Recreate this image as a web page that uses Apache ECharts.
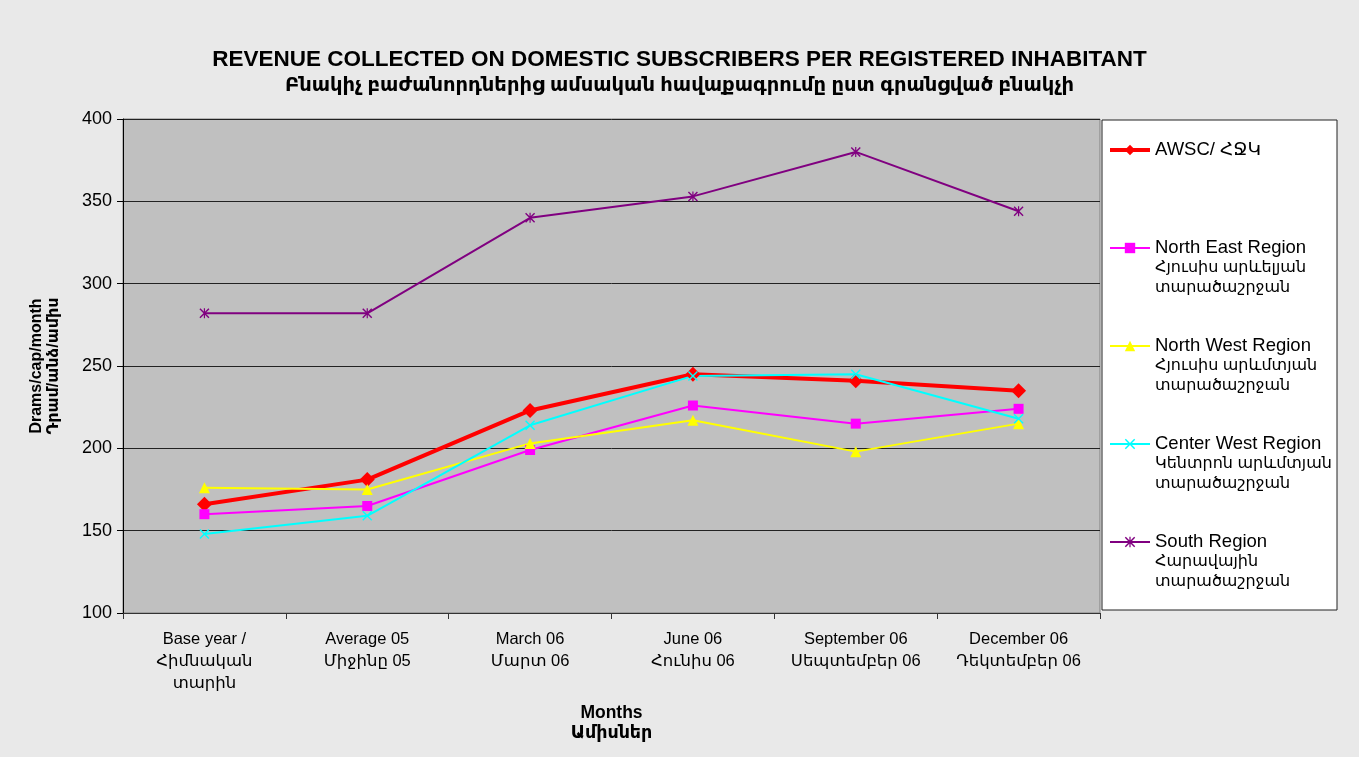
<!DOCTYPE html>
<html>
<head>
<meta charset="utf-8">
<script src="https://cdn.jsdelivr.net/npm/echarts@6/dist/echarts.min.js"></script>
<style>
html, body { margin: 0; padding: 0; background: #e9e9e9; }
#chart { width: 1359px; height: 757px; }
</style>
</head>
<body>
<div id="chart"></div>
<script>
// categories (English / Armenian)
var months = [
    'Base year /\nՀիմնական\nտարին',
    'Average 05\nՄիջինը 05',
    'March 06\nՄարտ 06',
    'June 06\nՀունիս 06',
    'September 06\nՍեպտեմբեր 06',
    'December 06\nԴեկտեմբեր 06'
];

// Drams per capita per month
var awsc = [166, 181, 223, 245, 241, 235];
var northEast = [160, 165, 199, 226, 215, 224];
var northWest = [176, 175, 203, 217, 198, 215];
var centerWest = [148, 159, 214, 244, 245, 218];
var south = [282, 282, 340, 353, 380, 344];

var yTicks = [100, 150, 200, 250, 300, 350, 400];

var seriesNames = [
    'AWSC/ ՀՋԿ',
    'North East Region\nՀյուսիս արևելյան\nտարածաշրջան',
    'North West Region\nՀյուսիս արևմտյան\nտարածաշրջան',
    'Center West Region\nԿենտրոն արևմտյան\nտարածաշրջան',
    'South Region\nՀարավային\nտարածաշրջան'
];

var font = "'Liberation Sans', 'DejaVu Sans', Arial, sans-serif";

// x and asterisk markers, excel style
var xMark = 'path://M0,1 L1,0 L5,4 L9,0 L10,1 L6,5 L10,9 L9,10 L5,6 L1,10 L0,9 L4,5 Z';
var starMark = 'path://M0,1 L1,0 L5,4 L9,0 L10,1 L6,5 L10,9 L9,10 L5,6 L1,10 L0,9 L4,5 Z M4.4,0 L5.6,0 L5.6,10 L4.4,10 Z';

var chartDom = document.getElementById('chart');
var myChart = echarts.init(chartDom);

var option = {
    backgroundColor: '#e9e9e9',
    animation: false,
    title: {
        text: 'REVENUE COLLECTED ON DOMESTIC SUBSCRIBERS PER REGISTERED INHABITANT',
        subtext: 'Բնակիչ բաժանորդներից ամսական հավաքագրումը ըստ գրանցված բնակչի',
        left: 'center',
        top: 43,
        itemGap: 5,
        textStyle: {
            fontFamily: font,
            fontSize: 22.5,
            fontWeight: 'bold',
            color: '#000'
        },
        subtextStyle: {
            fontFamily: font,
            fontSize: 19.5,
            fontWeight: 'bold',
            color: '#000'
        }
    },
    graphic: [
        {
            type: 'rect',
            z: 0,
            shape: { x: 1102, y: 120, width: 235, height: 490 },
            style: { fill: '#fff', stroke: '#222', lineWidth: 1 }
        }
    ],
    legend: {
        orient: 'vertical',
        left: 1108,
        top: 100,
        padding: 0,
        itemGap: -2,
        itemWidth: 40,
        itemHeight: 13,
        z: 5,
        formatter: function (name) {
            return name.split('\n').map(function (part, i) {
                return i === 0 ? '{en|' + part + '}' : '{hy|' + part + '}';
            }).join('\n');
        },
        textStyle: {
            fontFamily: font,
            color: '#000',
            lineHeight: 20,
            rich: {
                en: { fontFamily: font, fontSize: 18.5, lineHeight: 20, color: '#000' },
                hy: { fontFamily: font, fontSize: 16, lineHeight: 20, color: '#000' }
            }
        },
        data: [
            { name: seriesNames[0], textStyle: { padding: [40, 0, 40, 0] }, lineStyle: { width: 4 } },
            { name: seriesNames[1], textStyle: { padding: [40, 0, 0, 0] } },
            { name: seriesNames[2], textStyle: { padding: [40, 0, 0, 0] } },
            { name: seriesNames[3], textStyle: { padding: [40, 0, 0, 0] } },
            { name: seriesNames[4], textStyle: { padding: [40, 0, 0, 0] } }
        ]
    },
    grid: {
        left: 123,
        right: 259,
        top: 119,
        bottom: 144,
        show: true,
        backgroundColor: '#c0c0c0',
        borderColor: '#808080',
        borderWidth: 1
    },
    xAxis: {
        type: 'category',
        data: months,
        boundaryGap: true,
        name: 'Months\nԱմիսներ',
        nameLocation: 'middle',
        nameGap: 90,
        nameTextStyle: {
            fontFamily: font,
            fontSize: 17.5,
            fontWeight: 'bold',
            color: '#000',
            lineHeight: 20
        },
        axisLine: { lineStyle: { color: '#333', width: 1 } },
        axisTick: { show: true, length: 6, lineStyle: { color: '#333' } },
        axisLabel: {
            fontFamily: font,
            fontSize: 16.5,
            color: '#000',
            lineHeight: 22,
            margin: 15,
            interval: 0
        },
        splitLine: { show: false }
    },
    yAxis: {
        type: 'value',
        min: yTicks[0],
        max: yTicks[yTicks.length - 1],
        interval: 50,
        name: 'Drams/cap/month\nԴրամ/անձ/ամիս',
        nameLocation: 'middle',
        nameGap: 61,
        nameTextStyle: {
            fontFamily: font,
            fontSize: 16,
            fontWeight: 'bold',
            color: '#000',
            lineHeight: 17
        },
        axisLine: { show: true, lineStyle: { color: '#000', width: 1 } },
        axisTick: { show: true, length: 6, lineStyle: { color: '#000' } },
        axisLabel: {
            fontFamily: font,
            fontSize: 18,
            color: '#000',
            margin: 11
        },
        splitLine: { show: true, lineStyle: { color: '#222', width: 1 } }
    },
    series: [
        {
            name: seriesNames[0],
            type: 'line',
            data: awsc,
            symbol: 'diamond',
            symbolSize: 15,
            lineStyle: { color: '#ff0000', width: 4 },
            itemStyle: { color: '#ff0000' }
        },
        {
            name: seriesNames[1],
            type: 'line',
            data: northEast,
            symbol: 'rect',
            symbolSize: 10,
            lineStyle: { color: '#ff00ff', width: 2 },
            itemStyle: { color: '#ff00ff' }
        },
        {
            name: seriesNames[2],
            type: 'line',
            data: northWest,
            symbol: 'triangle',
            symbolSize: 11,
            lineStyle: { color: '#ffff00', width: 2 },
            itemStyle: { color: '#ffff00' }
        },
        {
            name: seriesNames[3],
            type: 'line',
            data: centerWest,
            symbol: xMark,
            symbolSize: 10,
            lineStyle: { color: '#00ffff', width: 2 },
            itemStyle: { color: '#00ffff' }
        },
        {
            name: seriesNames[4],
            type: 'line',
            data: south,
            symbol: starMark,
            symbolSize: 10,
            lineStyle: { color: '#800080', width: 2 },
            itemStyle: { color: '#800080' }
        }
    ]
};

myChart.setOption(option);
</script>
</body>
</html>
